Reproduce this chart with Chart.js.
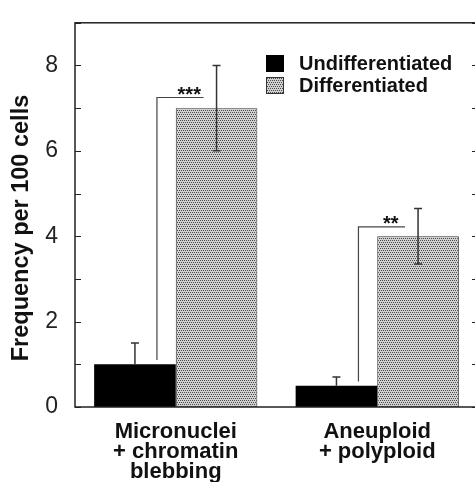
<!DOCTYPE html>
<html lang="en">
<head>
    <meta charset="UTF-8">
    <title>Frequency per 100 cells</title>
    <style>
        html, body { margin: 0; padding: 0; background: #fff; overflow: hidden; }
        #wrap { width: 475px; height: 482px; overflow: hidden; }
    </style>
</head>
<body>
    <div id="wrap">
        <canvas id="freqChart" width="484" height="482"></canvas>
    </div>
    <script src="https://cdn.jsdelivr.net/npm/chart.js"></script>
    <script>
    // data
    const categories = [['Micronuclei', '+ chromatin', 'blebbing'], ['Aneuploid', '+ polyploid']];
    const seriesNames = ['Undifferentiated', 'Differentiated'];
    const undiffValues = [1, 0.5];
    const diffValues = [7, 4];
    const undiffErrUp = [0.5, 0.2];
    const diffErrUp = [1, 0.65];
    const diffErrDown = [1, 0.65];
    // significance brackets: from value sigBase (over black bar) up to sigTop
    const sigBase = [1.1, 0.6];
    const sigTop = [7.25, 4.22];
    const sigLabels = ['***', '**'];
    const yTickLabels = [0, 2, 4, 6, 8];

    const FONT = '"Liberation Sans", Arial, Helvetica, sans-serif';

    function makeStipple() {
        const c = document.createElement('canvas');
        c.width = 4; c.height = 4;
        const g = c.getContext('2d');
        g.fillStyle = '#d0d0d0';
        g.fillRect(0, 0, 4, 4);
        g.fillStyle = '#4a4a4a';
        g.fillRect(0, 0, 1, 1); g.fillRect(2, 0, 1, 1);
        g.fillRect(1, 2, 1, 1); g.fillRect(3, 2, 1, 1);
        return document.getElementById('freqChart').getContext('2d').createPattern(c, 'repeat');
    }
    const stipple = makeStipple();

    const extras = {
        id: 'extras',
        afterDatasetsDraw(chart) {
            const ctx = chart.ctx;
            const a = chart.chartArea;
            const y = chart.scales.y;
            const m0 = chart.getDatasetMeta(0);
            const m1 = chart.getDatasetMeta(1);
            ctx.save();

            // frame
            ctx.strokeStyle = '#222';
            ctx.lineWidth = 1.5;
            ctx.strokeRect(a.left, a.top, a.right - a.left, a.bottom - a.top);

            // inward ticks on both sides
            ctx.lineWidth = 1;
            y.ticks.forEach(t => {
                const py = Math.round(y.getPixelForValue(t.value)) + 0.5;
                ctx.beginPath();
                ctx.moveTo(a.left, py); ctx.lineTo(a.left + 6, py);
                ctx.moveTo(a.right, py); ctx.lineTo(a.right - 6, py);
                ctx.stroke();
            });

            // error bars
            ctx.strokeStyle = '#333';
            ctx.lineWidth = 1.5;
            const cap = 4;
            m0.data.forEach((bar, i) => {
                const top = y.getPixelForValue(undiffValues[i] + undiffErrUp[i]);
                const base = y.getPixelForValue(undiffValues[i]);
                ctx.beginPath();
                ctx.moveTo(bar.x, base); ctx.lineTo(bar.x, top);
                ctx.moveTo(bar.x - cap, top); ctx.lineTo(bar.x + cap, top);
                ctx.stroke();
            });
            m1.data.forEach((bar, i) => {
                const top = y.getPixelForValue(diffValues[i] + diffErrUp[i]);
                const bot = y.getPixelForValue(diffValues[i] - diffErrDown[i]);
                ctx.beginPath();
                ctx.moveTo(bar.x, bot); ctx.lineTo(bar.x, top);
                ctx.moveTo(bar.x - cap, top); ctx.lineTo(bar.x + cap, top);
                ctx.moveTo(bar.x - cap, bot); ctx.lineTo(bar.x + cap, bot);
                ctx.stroke();
            });

            // significance brackets
            ctx.strokeStyle = '#444';
            ctx.lineWidth = 1.2;
            ctx.fillStyle = '#111';
            ctx.font = 'bold 20px ' + FONT;
            ctx.textAlign = 'center';
            ctx.textBaseline = 'alphabetic';
            m0.data.forEach((bar, i) => {
                const x0 = bar.x + 22;
                const x1 = m1.data[i].x - 13;
                const yb = y.getPixelForValue(sigBase[i]);
                const yt = y.getPixelForValue(sigTop[i]);
                ctx.beginPath();
                ctx.moveTo(x0, yb); ctx.lineTo(x0, yt); ctx.lineTo(x1, yt);
                ctx.stroke();
                ctx.fillText(sigLabels[i], (x0 + x1) / 2 + 9, yt + 3);
            });

            // legend
            const ds = chart.data.datasets;
            ctx.textAlign = 'left';
            ctx.font = 'bold 20px ' + FONT;
            ds.forEach((d, i) => {
                const ly = 55 + i * 22;
                ctx.fillStyle = d.backgroundColor;
                ctx.fillRect(266, ly, 18, 17);
                if (d.borderWidth) {
                    ctx.strokeStyle = '#333';
                    ctx.lineWidth = 1;
                    ctx.strokeRect(266.5, ly + 0.5, 17, 16);
                }
                ctx.fillStyle = '#111';
                ctx.fillText(d.label, 299, ly + 15);
            });

            // y axis title
            ctx.translate(22, 228);
            ctx.rotate(-Math.PI / 2);
            ctx.textAlign = 'center';
            ctx.textBaseline = 'middle';
            ctx.font = 'bold 23.5px ' + FONT;
            ctx.fillStyle = '#111';
            ctx.fillText('Frequency per 100 cells', 0, 0);
            ctx.restore();
        }
    };

    new Chart(document.getElementById('freqChart').getContext('2d'), {
        type: 'bar',
        data: {
            labels: categories,
            datasets: [{
                label: seriesNames[0],
                data: undiffValues,
                backgroundColor: '#000',
                borderWidth: 0
            }, {
                label: seriesNames[1],
                data: diffValues,
                backgroundColor: stipple,
                borderColor: '#333',
                borderWidth: 1
            }]
        },
        options: {
            responsive: false,
            animation: false,
            events: [],
            categoryPercentage: 0.81,
            barPercentage: 1.0,
            layout: { padding: { left: 0, top: 18, right: 6, bottom: 0 } },
            plugins: { legend: { display: false }, tooltip: { enabled: false } },
            scales: {
                x: {
                    grid: { display: false },
                    border: { display: false },
                    ticks: {
                        color: '#111',
                        font: { family: FONT, size: 22, weight: 'bold', lineHeight: 0.91 },
                        padding: 7,
                        maxRotation: 0,
                        autoSkip: false
                    },
                    afterFit: s => { s.height = 75; }
                },
                y: {
                    min: 0,
                    max: 9,
                    grid: { display: false },
                    border: { display: false },
                    ticks: {
                        stepSize: 0.5,
                        color: '#222',
                        font: { family: FONT, size: 23 },
                        padding: 9,
                        callback: v => yTickLabels.includes(v) ? String(v) : ''
                    },
                    afterFit: s => { s.width = 75; }
                }
            }
        },
        plugins: [extras]
    });
    </script>
</body>
</html>
